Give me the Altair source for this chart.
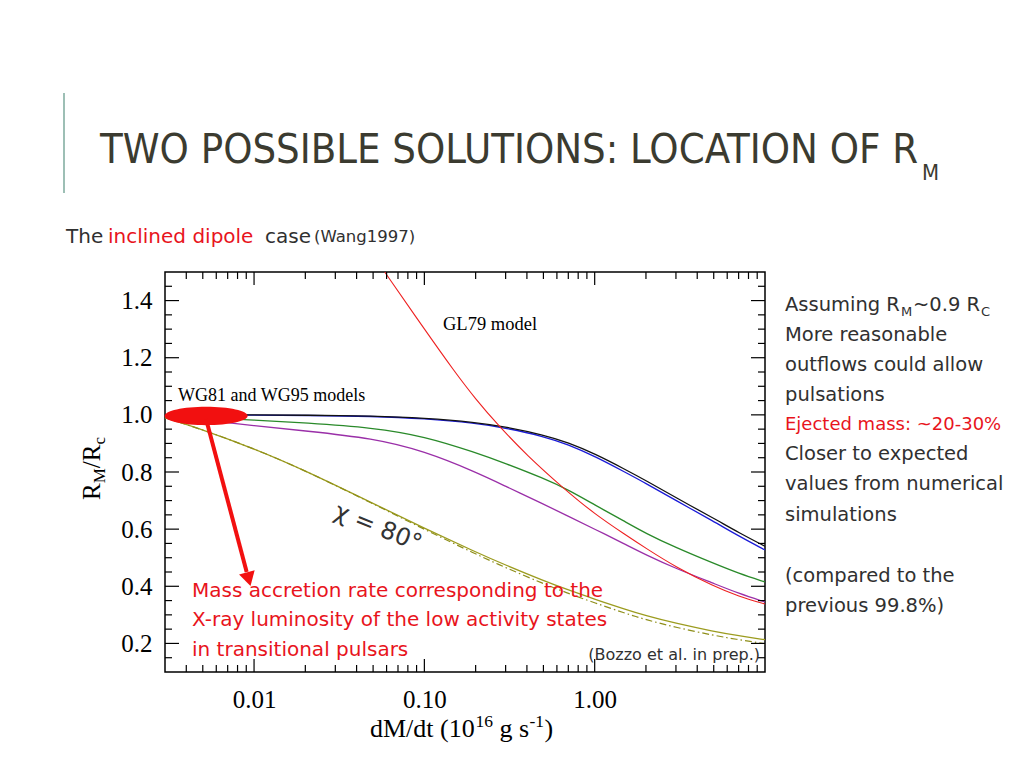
import altair as alt
import pandas as pd

# ---------------- data ----------------
mdot = [0.003, 0.005, 0.01, 0.02, 0.05, 0.1, 0.2, 0.3, 0.5, 0.7, 1.0, 1.5, 2.0, 3.0, 5.0, 7.0, 10.0]
rm_black = [1.0, 1.0, 1.0, 0.999, 0.996, 0.989, 0.974, 0.958, 0.93, 0.903, 0.864, 0.81, 0.77, 0.71, 0.638, 0.588, 0.54]
rm_blue = [1.0, 1.0, 0.999, 0.998, 0.995, 0.987, 0.971, 0.954, 0.925, 0.896, 0.855, 0.80, 0.76, 0.70, 0.627, 0.576, 0.527]
rm_green = [0.998, 0.99, 0.982, 0.972, 0.955, 0.925, 0.868, 0.83, 0.778, 0.738, 0.685, 0.627, 0.585, 0.535, 0.48, 0.445, 0.415]
rm_purple = [0.998, 0.982, 0.962, 0.944, 0.918, 0.873, 0.80, 0.75, 0.688, 0.645, 0.60, 0.548, 0.51, 0.462, 0.41, 0.375, 0.345]
rm_olive = [0.99, 0.948, 0.882, 0.805, 0.69, 0.603, 0.52, 0.474, 0.42, 0.387, 0.355, 0.32, 0.297, 0.27, 0.242, 0.227, 0.213]
rm_olive_dd = [0.99, 0.948, 0.882, 0.805, 0.689, 0.599, 0.513, 0.465, 0.409, 0.375, 0.342, 0.306, 0.283, 0.256, 0.228, 0.213, 0.199]

gl79_mdot = [0.0585, 0.1, 0.15, 0.2, 0.27, 0.4, 0.67, 1.0, 1.5, 2.0, 3.0, 5.0, 7.0, 10.0]
gl79_rm = [1.5, 1.3, 1.152, 1.055, 0.965, 0.858, 0.738, 0.653, 0.582, 0.533, 0.467, 0.40, 0.365, 0.338]

series_names = ["olive", "purple", "green", "blue", "black"]
series_colors = ["#9c9c1f", "#9a2fa8", "#2a8a2a", "#1a1ad8", "#111111"]

x_major = [0.01, 0.1, 1.0]
x_minor = [0.004, 0.005, 0.006, 0.007, 0.008, 0.009,
           0.02, 0.03, 0.04, 0.05, 0.06, 0.07, 0.08, 0.09,
           0.2, 0.3, 0.4, 0.5, 0.6, 0.7, 0.8, 0.9,
           2, 3, 4, 5, 6, 7, 8, 9]
y_major = [0.2, 0.4, 0.6, 0.8, 1.0, 1.2, 1.4]
y_minor = [0.15, 0.25, 0.3, 0.35, 0.45, 0.5, 0.55, 0.65, 0.7, 0.75, 0.85, 0.9, 0.95,
           1.05, 1.1, 1.15, 1.25, 1.3, 1.35, 1.45]

# highlighted region (ellipse) and arrow, in data units
ellipse_mdot = [0.00523]
ellipse_rm = [0.996]
arrow_mdot = [0.00523, 0.00905]
arrow_rm = [0.985, 0.45]
arrowhead_mdot = [0.0093]
arrowhead_rm = [0.425]

RED = "#e8141c"
DARK = "#303030"
SERIF = "Liberation Serif"
SANS = "DejaVu Sans"

# ---------------- scales / axes ----------------
xscale = alt.Scale(type="log", domain=[0.003, 10], nice=False)
yscale = alt.Scale(domain=[0.1, 1.5], nice=False, zero=False)
xaxis = alt.Axis(values=x_major, format=".2f", labelFont=SERIF, labelFontSize=25,
                 labelColor="black", ticks=False, domain=False, grid=False,
                 labelPadding=15, title=None, labelFlush=False, labelOverlap=False)
yaxis = alt.Axis(values=y_major, format=".1f", labelFont=SERIF, labelFontSize=25,
                 labelColor="black", ticks=False, domain=False, grid=False,
                 labelPadding=13, title=None, labelFlush=False, labelOverlap=False)


def X(field):
    return alt.X(field, type="quantitative", scale=xscale, axis=xaxis)


def Y(field):
    return alt.Y(field, type="quantitative", scale=yscale, axis=yaxis)


rows = []
for name, vals in zip(series_names, [rm_olive, rm_purple, rm_green, rm_blue, rm_black]):
    for m, r in zip(mdot, vals):
        rows.append({"mdot": m, "rm": r, "series": name})
curves = pd.DataFrame(rows)

lines = alt.Chart(curves).mark_line(strokeWidth=1.3, interpolate="basis", clip=True).encode(
    x=X("mdot"), y=Y("rm"),
    color=alt.Color("series:N", scale=alt.Scale(domain=series_names, range=series_colors), legend=None),
)

dd = alt.Chart(pd.DataFrame({"mdot": mdot, "rm": rm_olive_dd})).mark_line(
    strokeWidth=1.2, interpolate="basis", color="#8f8f1a", strokeDash=[7, 3, 1.5, 3], clip=True
).encode(x=X("mdot"), y=Y("rm"))

gl79 = alt.Chart(pd.DataFrame({"mdot": gl79_mdot, "rm": gl79_rm})).mark_line(
    strokeWidth=1.1, interpolate="basis", color="#ee2020", clip=True
).encode(x=X("mdot"), y=Y("rm"))


def rules(values, horizontal, p0, p1):
    df = pd.DataFrame({"v": values})
    c = alt.Chart(df).mark_rule(color="black", strokeWidth=1.2)
    if horizontal:
        return c.encode(y=Y("v"), x=alt.value(p0), x2=alt.value(p1))
    return c.encode(x=X("v"), y=alt.value(p0), y2=alt.value(p1))


ticks = [
    rules(x_major, False, 400, 387), rules(x_minor, False, 400, 393),
    rules(x_major, False, 0, 13), rules(x_minor, False, 0, 7),
    rules(y_major, True, 0, 14), rules(y_minor, True, 0, 7),
    rules(y_major, True, 600, 586), rules(y_minor, True, 600, 593),
]

ELLIPSE = "M -1 0 A 1 0.22 0 1 1 1 0 A 1 0.22 0 1 1 -1 0 Z"
ellipse = alt.Chart(pd.DataFrame({"mdot": ellipse_mdot, "rm": ellipse_rm})).mark_point(
    shape=ELLIPSE, filled=True, size=6889, color="#f21010", opacity=1
).encode(x=X("mdot"), y=Y("rm"))

arrow = alt.Chart(pd.DataFrame({"x0": [arrow_mdot[0]], "x1": [arrow_mdot[1]],
                                "y0": [arrow_rm[0]], "y1": [arrow_rm[1]]})).mark_rule(
    color="#f21010", strokeWidth=4
).encode(x=X("x0"), x2="x1:Q", y=Y("y0"), y2="y1:Q")

head = alt.Chart(pd.DataFrame({"mdot": arrowhead_mdot, "rm": arrowhead_rm})).mark_point(
    shape="triangle-down", filled=True, size=260, color="#f21010", opacity=1, angle=345
).encode(x=X("mdot"), y=Y("rm"))


def label(text, x, y, size, color=DARK, font=SANS, angle=0, align="left", baseline="alphabetic"):
    return alt.Chart(pd.DataFrame({"t": [text]})).mark_text(
        text=text, font=font, fontSize=size, color=color, angle=angle, align=align, baseline=baseline
    ).encode(x=alt.value(x), y=alt.value(y))


accent = alt.Chart(pd.DataFrame({"t": [0]})).mark_rule(color="#9dbfb5", strokeWidth=2).encode(
    x=alt.value(-101), y=alt.value(-179), y2=alt.value(-79))

TITLE_FONT = "Liberation Sans Narrow, DejaVu Sans Condensed, Roboto Condensed, Arial Narrow, sans-serif"
texts = [
    label("TWO POSSIBLE SOLUTIONS: LOCATION OF R", -65, -109, 41.4, color="#3b3b30", font=TITLE_FONT),
    label("M", 757, -92, 22, color="#3b3b30", font=TITLE_FONT),
    label("The", -99, -29, 20),
    label("inclined dipole", -57, -29, 20, color=RED),
    label("case", 100, -29, 20),
    label("(Wang1997)", 149, -30, 16.5),
    # right block
    label("Assuming R", 620, 38.7, 19.5),
    label("M", 736, 43.7, 13),
    label("~0.9 R", 748, 38.7, 19.5),
    label("C", 816, 43.7, 13),
    label("More reasonable", 620, 68.5, 19.5),
    label("outflows could allow", 620, 98.7, 19.5),
    label("pulsations", 620, 128.7, 19.5),
    label("Ejected mass: ~20-30%", 620, 158, 18, color=RED),
    label("Closer to expected", 620, 188, 19.5),
    label("values from numerical", 620, 218, 19.5),
    label("simulations", 620, 248.7, 19.5),
    label("(compared to the", 620, 309.7, 19.5),
    label("previous 99.8%)", 620, 339.7, 19.5),
    # inside the plot
    label("GL79 model", 278, 58, 18.5, color="black", font=SERIF),
    label("WG81 and WG95 models", 13, 129, 18, color="black", font=SERIF),
    label("χ = 80°", 213, 256, 24, color="#333333", angle=22, align="center", baseline="middle"),
    label("Mass accretion rate corresponding to the", 27, 324.7, 20, color=RED),
    label("X-ray luminosity of the low activity states", 27, 353.5, 20, color=RED),
    label("in transitional pulsars", 27, 383.5, 20, color=RED),
    label("(Bozzo et al. in prep.)", 595, 388, 16, align="right"),
    # axis titles
    label("R", -65, 228, 25, color="black", font=SERIF, angle=270),
    label("M", -60, 211.3, 17, color="black", font=SERIF, angle=270),
    label("/R", -65, 196.2, 25, color="black", font=SERIF, angle=270),
    label("c", -60, 172.6, 17, color="black", font=SERIF, angle=270),
    label("dM/dt (10", 205, 465, 26, color="black", font=SERIF),
    label("16", 310.5, 455, 17.5, color="black", font=SERIF),
    label("g s", 334.5, 465, 26, color="black", font=SERIF),
    label("-1", 364.5, 455, 17.5, color="black", font=SERIF),
    label(")", 379.5, 465, 26, color="black", font=SERIF),
]

chart = alt.layer(
    lines, dd, gl79, *ticks, ellipse, arrow, head, accent, *texts
).properties(
    width=600, height=400,
    autosize=alt.AutoSizeParams(type="none"),
    padding={"left": 157, "top": 264, "right": 243, "bottom": 80},
    background="white",
).configure_view(stroke="black", strokeWidth=1.5)

chart.save("out.html", embed_options={"renderer": "svg", "actions": False})
